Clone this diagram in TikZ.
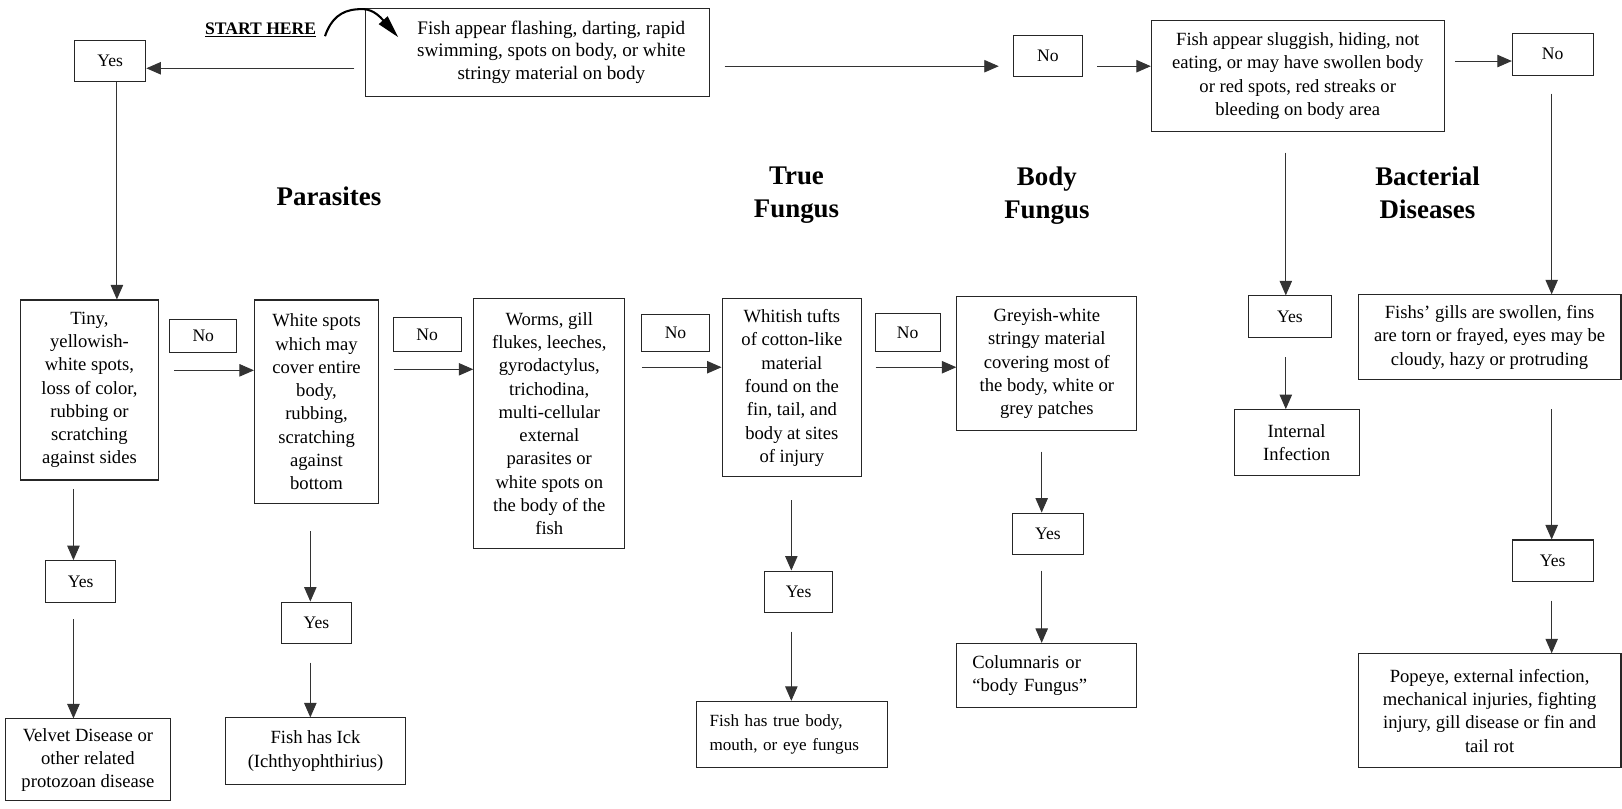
\documentclass[tikz,border=0pt]{standalone}
\usepackage{fontspec}
\setmainfont{Liberation Serif}
\usetikzlibrary{arrows.meta}
\begin{document}
\begin{tikzpicture}[x=1pt,y=-1pt,
  box/.style={draw=black!85, line width=1pt, inner sep=0pt, align=center,
    font=\fontsize{18}{22.5}\selectfont},
  bigbox/.style={box, font=\fontsize{18.5}{22}\selectfont},
  lbox/.style={box, align=left, inner xsep=15pt},
  yn/.style={box, minimum height=40pt, font=\fontsize{17}{20}\selectfont},
  arr/.style={draw=black!80, line width=0.9pt, -{Triangle[length=14pt,width=12pt]}},
  head/.style={font=\fontsize{26}{32}\selectfont\bfseries, align=center},
]
\useasboundingbox (0,0) rectangle (1568,782);

% top row
\node[bigbox, minimum width=333pt, minimum height=85pt] (q1) at (519.5,50.5)
  {\hspace*{27pt}\raisebox{-4pt}{\begin{tabular}{@{}c@{}}Fish appear flashing, darting, rapid\\swimming, spots on body, or white\\stringy material on body\end{tabular}}};
\node[yn, minimum width=69pt] (yes1) at (106.5,59) {Yes};
\node[yn, minimum width=66pt] (no1) at (1013,54) {No};
\node[box, minimum width=283pt, minimum height=107pt] (q2) at (1254.5,73.5)
  {Fish appear sluggish, hiding, not\\eating, or may have swollen body\\or red spots, red streaks or\\bleeding on body area};
\node[yn, minimum width=78pt, minimum height=41pt] (no2) at (1501,52.5) {No};

% start here
\node[font=\fontsize{17}{20}\selectfont\bfseries] (start) at (252,29) {\underline{START HERE}};
\coordinate (starttip) at (385,36);
\draw[line width=2pt, -{Triangle[length=22pt,width=11pt]}]
  ([xshift=5pt,yshift=-6pt]start.east) .. controls (320,18) and (330,10) .. (345,9)
  .. controls (355,8) and (362,10) .. (starttip);

% headers
\node[head] (hpar) at (318,190) {Parasites};
\node[head] (htrue) at (770,189) {True\\Fungus};
\node[head] (hbody) at (1012,189) {Body\\Fungus};
\node[head] (hbact) at (1380,186) {Bacterial\\Diseases};

% bacterial side
\node[yn, minimum width=80pt] (yesI) at (1247,306) {Yes};
\node[box, minimum width=121pt, minimum height=64pt] (internal) at (1253.5,428) {Internal\\Infection};
\node[box, minimum width=254pt, minimum height=82pt] (gills) at (1440,326)
  {Fishs’ gills are swollen, fins\\are torn or frayed, eyes may be\\cloudy, hazy or protruding};
\node[yn, minimum width=78pt] (yesG2) at (1501,542) {Yes};
\node[box, minimum width=254pt, minimum height=110pt] (popeye) at (1440,687)
  {Popeye, external infection,\\mechanical injuries, fighting\\injury, gill disease or fin and\\tail rot};

% middle row
\node[box, minimum width=133pt, minimum height=174pt] (tiny) at (86.5,377)
  {Tiny,\\yellowish-\\white spots,\\loss of color,\\rubbing or\\scratching\\against sides};
\node[yn, minimum width=65pt, minimum height=32pt] (noA) at (196.5,325) {No};
\node[box, minimum width=120pt, minimum height=197pt] (white) at (306,388.5)
  {White spots\\which may\\cover entire\\body,\\rubbing,\\scratching\\against\\bottom};
\node[yn, minimum width=66pt, minimum height=33pt] (noB) at (413,323.5) {No};
\node[box, minimum width=146pt, minimum height=241pt] (worms) at (531,409.5)
  {Worms, gill\\flukes, leeches,\\gyrodactylus,\\trichodina,\\multi-cellular\\external\\parasites or\\white spots on\\the body of the\\fish};
\node[yn, minimum width=66pt, minimum height=36pt] (noC) at (653,322) {No};
\node[box, minimum width=135pt, minimum height=172pt] (whitish) at (765.5,375)
  {Whitish tufts\\of cotton-like\\material\\found on the\\fin, tail, and\\body at sites\\of injury};
\node[yn, minimum width=63pt, minimum height=37pt] (noD) at (877.5,321.5) {No};
\node[box, minimum width=174pt, minimum height=129pt] (greyish) at (1012,351.5)
  {Greyish-white\\stringy material\\covering most of\\the body, white or\\grey patches};

% bottom rows
\node[yn, minimum width=68pt] (yesG) at (1013,516) {Yes};
\node[lbox, text width=144pt, minimum height=62pt] (colum) at (1012,653)
  {Columnaris or\\“body Fungus”};
\node[yn, minimum width=66pt] (yesW) at (772,572) {Yes};
\node[lbox, inner xsep=13pt, text width=159pt, minimum height=64pt,
  font=\fontsize{16.5}{22.5}\selectfont] (truef) at (765.5,710)
  {Fish has true body,\\mouth, or eye fungus};
\node[yn, minimum width=68pt] (yesT) at (78,562) {Yes};
\node[box, minimum width=160pt, minimum height=79pt] (velvet) at (85,734.5)
  {Velvet Disease or\\other related\\protozoan disease};
\node[yn, minimum width=68pt] (yesWS) at (306,602) {Yes};
\node[box, minimum width=174pt, minimum height=64pt] (ick) at (305,726)
  {Fish has Ick\\(Ichthyophthirius)};

% connectors: top
\draw[arr, shorten <=10pt] (q1.west |- 0,66) -- (yes1.east |- 0,66);
\draw[arr, shorten <=14pt, shorten >=14pt] (q1.east |- 0,64) -- (no1.west |- 0,64);
\draw[arr, shorten <=14pt] (no1.east |- 0,64) -- (q2.west |- 0,64);
\draw[arr, shorten <=10pt] (q2.east |- 0,59) -- (no2.west |- 0,59);
\draw[arr, shorten <=17pt] (no2.south -| 1500,0) -- (gills.north -| 1500,0);
\draw[arr, shorten <=20pt] (q2.south -| 1243,0) -- (yesI.north -| 1243,0);
\draw[arr, shorten <=19pt] (yesI.south -| 1243,0) -- (internal.north -| 1243,0);
\draw[arr, shorten <=28pt] (gills.south -| 1500,0) -- (yesG2.north -| 1500,0);
\draw[arr, shorten <=18pt] (yesG2.south -| 1500,0) -- (popeye.north -| 1500,0);
\draw[arr] (yes1.south -| 113,0) -- (tiny.north -| 113,0);

% connectors: middle row
\draw[arr, shorten <=15pt] (tiny.east |- 0,358) -- (white.west |- 0,358);
\draw[arr, shorten <=14pt] (white.east |- 0,357) -- (worms.west |- 0,357);
\draw[arr, shorten <=16pt] (worms.east |- 0,355) -- (whitish.west |- 0,355);
\draw[arr, shorten <=13pt] (whitish.east |- 0,355) -- (greyish.west |- 0,355);

% connectors: down
\draw[arr, shorten <=20pt] (greyish.south -| 1007,0) -- (yesG.north -| 1007,0);
\draw[arr, shorten <=15pt] (yesG.south -| 1007,0) -- (colum.north -| 1007,0);
\draw[arr, shorten <=22pt] (whitish.south -| 765,0) -- (yesW.north -| 765,0);
\draw[arr, shorten <=18pt] (yesW.south -| 765,0) -- (truef.north -| 765,0);
\draw[arr, shorten <=8pt] (tiny.south -| 71,0) -- (yesT.north -| 71,0);
\draw[arr, shorten <=16pt] (yesT.south -| 71,0) -- (velvet.north -| 71,0);
\draw[arr, shorten <=26pt] (white.south -| 300,0) -- (yesWS.north -| 300,0);
\draw[arr, shorten <=18pt] (yesWS.south -| 300,0) -- (ick.north -| 300,0);
\end{tikzpicture}
\end{document}
